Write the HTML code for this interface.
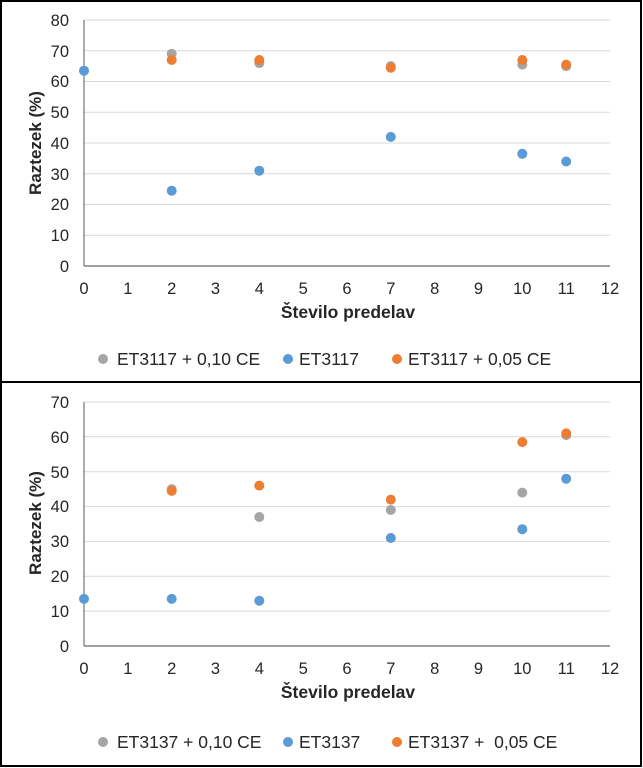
<!DOCTYPE html>
<html><head><meta charset="utf-8"><style>
html,body{margin:0;padding:0;background:#fff}
svg{display:block}
text{font-family:"Liberation Sans",Arial,sans-serif;fill:#262626}
</style></head><body>
<svg width="643" height="768" viewBox="0 0 643 768" xmlns="http://www.w3.org/2000/svg">
<rect x="1" y="1" width="640" height="765" fill="#fff" stroke="#000" stroke-width="2"/>
<line x1="1" y1="382" x2="641" y2="382" stroke="#000" stroke-width="2"/>

<!-- TOP CHART -->
<g stroke="#d9d9d9" stroke-width="1">
<line x1="84" x2="610" y1="235.25" y2="235.25"/><line x1="84" x2="610" y1="204.5" y2="204.5"/>
<line x1="84" x2="610" y1="173.75" y2="173.75"/><line x1="84" x2="610" y1="143" y2="143"/>
<line x1="84" x2="610" y1="112.25" y2="112.25"/><line x1="84" x2="610" y1="81.5" y2="81.5"/>
<line x1="84" x2="610" y1="50.75" y2="50.75"/><line x1="84" x2="610" y1="20" y2="20"/>
</g>
<line x1="84" y1="20" x2="84" y2="266" stroke="#595959"/>
<line x1="84" y1="266" x2="610" y2="266" stroke="#808080" stroke-width="1.5"/>
<g font-size="16.5" text-anchor="end">
<text x="69" y="272">0</text><text x="69" y="241">10</text><text x="69" y="210">20</text>
<text x="69" y="180">30</text><text x="69" y="149">40</text><text x="69" y="118">50</text>
<text x="69" y="87">60</text><text x="69" y="57">70</text><text x="69" y="26">80</text>
</g>
<g font-size="16.5" text-anchor="middle">
<text x="84" y="294">0</text><text x="127.8" y="294">1</text><text x="171.7" y="294">2</text>
<text x="215.5" y="294">3</text><text x="259.3" y="294">4</text><text x="303.2" y="294">5</text>
<text x="347" y="294">6</text><text x="390.8" y="294">7</text><text x="434.7" y="294">8</text>
<text x="478.5" y="294">9</text><text x="522.3" y="294">10</text><text x="566.2" y="294">11</text>
<text x="610" y="294">12</text>
</g>
<text x="348" y="318" font-size="17.5" font-weight="bold" text-anchor="middle">Število predelav</text>
<text transform="translate(41,143) rotate(-90)" font-size="17" font-weight="bold" text-anchor="middle">Raztezek (%)</text>
<g fill="#a5a5a5">
<circle cx="84" cy="70.7" r="5"/><circle cx="171.7" cy="53.8" r="5"/><circle cx="259.3" cy="63.05" r="5"/>
<circle cx="390.8" cy="66.1" r="5"/><circle cx="522.3" cy="64.6" r="5"/><circle cx="566.2" cy="66.1" r="5"/>
</g>
<g fill="#5b9bd5">
<circle cx="84" cy="70.7" r="5"/><circle cx="171.7" cy="190.7" r="5"/><circle cx="259.3" cy="170.7" r="5"/>
<circle cx="390.8" cy="136.9" r="5"/><circle cx="522.3" cy="153.8" r="5"/><circle cx="566.2" cy="161.5" r="5"/>
</g>
<g fill="#ed7d31">
<circle cx="171.7" cy="60" r="5"/><circle cx="259.3" cy="60" r="5"/>
<circle cx="390.8" cy="67.7" r="5"/><circle cx="522.3" cy="60" r="5"/><circle cx="566.2" cy="64.6" r="5"/>
</g>
<circle cx="103" cy="359" r="5" fill="#a5a5a5"/><text x="117" y="365" font-size="17.5">ET3117 + 0,10 CE</text>
<circle cx="288" cy="359" r="5" fill="#5b9bd5"/><text x="299" y="365" font-size="17.5">ET3117</text>
<circle cx="397" cy="359" r="5" fill="#ed7d31"/><text x="408" y="365" font-size="17.5">ET3117 + 0,05 CE</text>

<!-- BOTTOM CHART -->
<g stroke="#d9d9d9" stroke-width="1">
<line x1="84" x2="610" y1="611.1" y2="611.1"/><line x1="84" x2="610" y1="576.3" y2="576.3"/>
<line x1="84" x2="610" y1="541.4" y2="541.4"/><line x1="84" x2="610" y1="506.6" y2="506.6"/>
<line x1="84" x2="610" y1="471.7" y2="471.7"/><line x1="84" x2="610" y1="436.8" y2="436.8"/>
<line x1="84" x2="610" y1="402" y2="402"/>
</g>
<line x1="84" y1="402" x2="84" y2="646" stroke="#595959"/>
<line x1="84" y1="646" x2="610" y2="646" stroke="#808080" stroke-width="1.5"/>
<g font-size="16.5" text-anchor="end">
<text x="69" y="652">0</text><text x="69" y="617">10</text><text x="69" y="582">20</text>
<text x="69" y="547">30</text><text x="69" y="512">40</text><text x="69" y="478">50</text>
<text x="69" y="443">60</text><text x="69" y="408">70</text>
</g>
<g font-size="16.5" text-anchor="middle">
<text x="84" y="674">0</text><text x="127.8" y="674">1</text><text x="171.7" y="674">2</text>
<text x="215.5" y="674">3</text><text x="259.3" y="674">4</text><text x="303.2" y="674">5</text>
<text x="347" y="674">6</text><text x="390.8" y="674">7</text><text x="434.7" y="674">8</text>
<text x="478.5" y="674">9</text><text x="522.3" y="674">10</text><text x="566.2" y="674">11</text>
<text x="610" y="674">12</text>
</g>
<text x="348" y="698" font-size="17.5" font-weight="bold" text-anchor="middle">Število predelav</text>
<text transform="translate(41,523) rotate(-90)" font-size="17" font-weight="bold" text-anchor="middle">Raztezek (%)</text>
<g fill="#a5a5a5">
<circle cx="171.7" cy="489.1" r="5"/><circle cx="259.3" cy="517" r="5"/>
<circle cx="390.8" cy="510" r="5"/><circle cx="522.3" cy="492.6" r="5"/><circle cx="566.2" cy="435.1" r="5"/>
</g>
<g fill="#5b9bd5">
<circle cx="84" cy="598.9" r="5"/><circle cx="171.7" cy="598.9" r="5"/><circle cx="259.3" cy="600.7" r="5"/>
<circle cx="390.8" cy="538" r="5"/><circle cx="522.3" cy="529.2" r="5"/><circle cx="566.2" cy="478.7" r="5"/>
</g>
<g fill="#ed7d31">
<circle cx="171.7" cy="490.9" r="5"/><circle cx="259.3" cy="485.6" r="5"/>
<circle cx="390.8" cy="499.6" r="5"/><circle cx="522.3" cy="442.1" r="5"/><circle cx="566.2" cy="433.4" r="5"/>
</g>
<circle cx="103" cy="742" r="5" fill="#a5a5a5"/><text x="117" y="748" font-size="17.5">ET3137 + 0,10 CE</text>
<circle cx="288" cy="742" r="5" fill="#5b9bd5"/><text x="299" y="748" font-size="17.5">ET3137</text>
<circle cx="397" cy="742" r="5" fill="#ed7d31"/><text x="408" y="748" font-size="17.5" xml:space="preserve">ET3137 +  0,05 CE</text>
</svg>
</body></html>
